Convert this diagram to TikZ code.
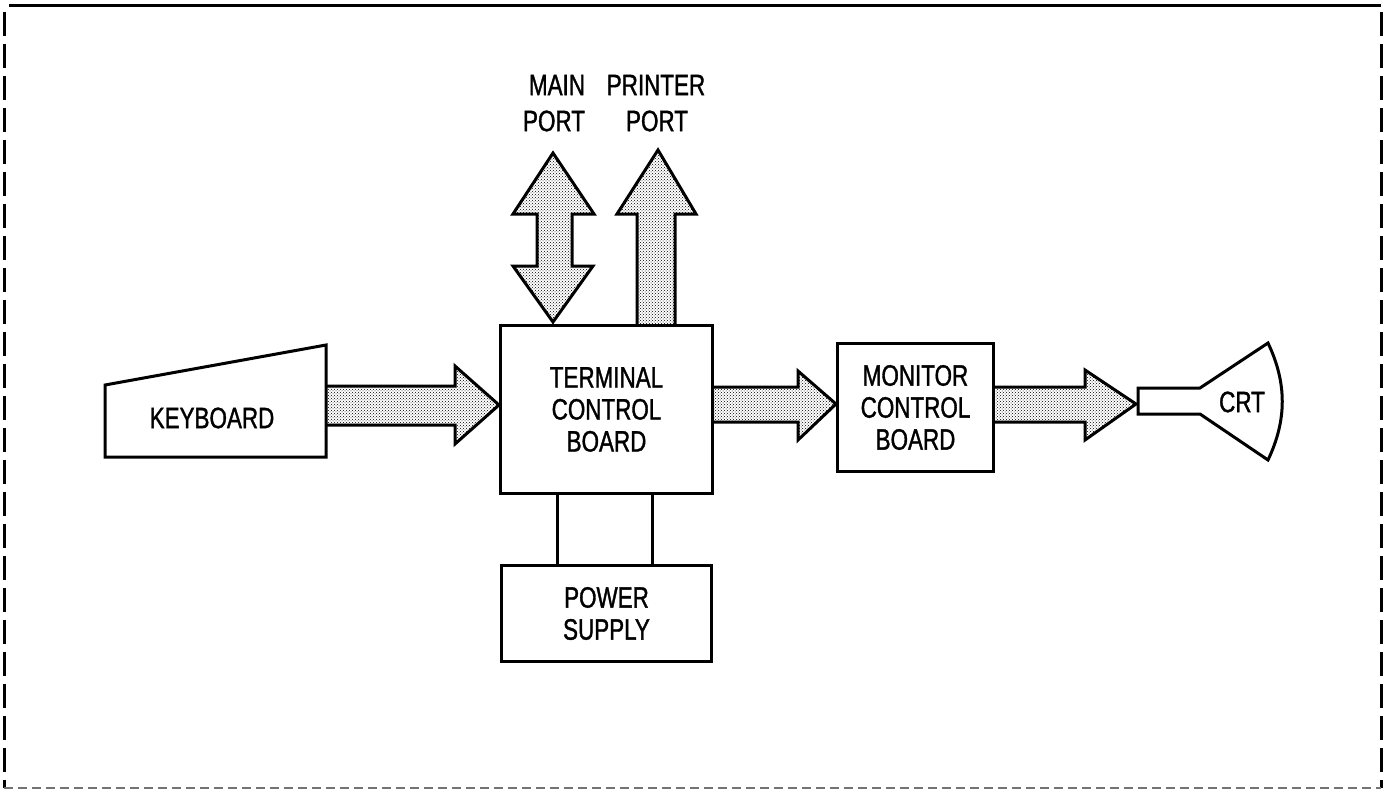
\documentclass[tikz,border=0pt]{standalone}
\usepackage{fontspec}
\setmainfont[FakeStretch=0.76,FakeBold=1.2]{Liberation Sans}
\usetikzlibrary{patterns}
\begin{document}
\begin{tikzpicture}[x=1pt,y=-1pt,
  ln/.style={line width=3pt, line join=miter},
  box/.style={draw, line width=3pt, inner sep=0pt, anchor=north west,
    font=\fontsize{29.5}{32}\selectfont, align=center},
  lbl/.style={font=\fontsize{29.5}{32}\selectfont, align=center, inner sep=0pt},
  big/.style={ln, pattern=crosshatch dots, pattern color=black}]
\useasboundingbox (0,0) rectangle (1385,790);
% frame
\draw[line width=3pt] (9,5) -- (1381,5);
\draw[line width=3pt, dash pattern=on 24pt off 8pt] (4,12) -- (4,788);
\draw[line width=3pt, dash pattern=on 24pt off 8pt] (1381,12) -- (1381,788);
\draw[line width=1.4pt, black!55, dash pattern=on 9pt off 5pt] (4,788) -- (1381,788);

% boxes
\node[box, minimum width=212pt, minimum height=168pt] (tcb) at (499,324) {TERMINAL\\CONTROL\\BOARD};
\node[box, minimum width=156pt, minimum height=128pt] (mcb) at (836,342) {MONITOR\\CONTROL\\BOARD};
\node[box, minimum width=210pt, minimum height=96pt] (ps) at (500,564) {POWER\\SUPPLY};

% keyboard
\draw[ln] (326,345) -- (326,457) -- (105,457) -- (105,385) -- cycle;
\node[lbl] (kb) at (212,418) {KEYBOARD};

% CRT
\draw[ln] (1200,388) -- (1138,388) -- (1138,414) -- (1200,414) -- (1268,460)
  .. controls (1287,420) and (1287,383) .. (1268,343) -- cycle;
\node[lbl] (crt) at (1242,402) {CRT};

% port labels
\node[lbl] (mainl) at (557,85) {MAIN};
\node[lbl] (prnl) at (656,85) {PRINTER};
\node[lbl] (portm) at (554,121) {PORT};
\node[lbl] (portp) at (657,121) {PORT};

% wide arrows
\draw[big] (326,386) -- (455,386) -- (455,366) -- (tcb.west |- 0,405) -- (455,444) -- (455,425) -- (326,425);
\draw[big] (tcb.east |- 0,387) -- (798,387) -- (798,371) -- (mcb.west |- 0,404) -- (798,440) -- (798,422) -- (tcb.east |- 0,422);
\draw[big] (mcb.east |- 0,387) -- (1085,387) -- (1085,370) -- (1136,404) -- (1085,440) -- (1085,422) -- (mcb.east |- 0,422);
\draw[big] (553,153) -- (594,214) -- (572,214) -- (572,266) -- (593,266) -- (553,322)
  -- (513,266) -- (537,266) -- (537,214) -- (513,214) -- cycle;
\draw[big] (637,324) -- (637,214) -- (617,214) -- (658,150) -- (696,214) -- (675,214) -- (675,324);

% power lines
\draw[ln] (tcb.south -| 557,0) -- (ps.north -| 557,0);
\draw[ln] (tcb.south -| 652,0) -- (ps.north -| 652,0);
\end{tikzpicture}
\end{document}
